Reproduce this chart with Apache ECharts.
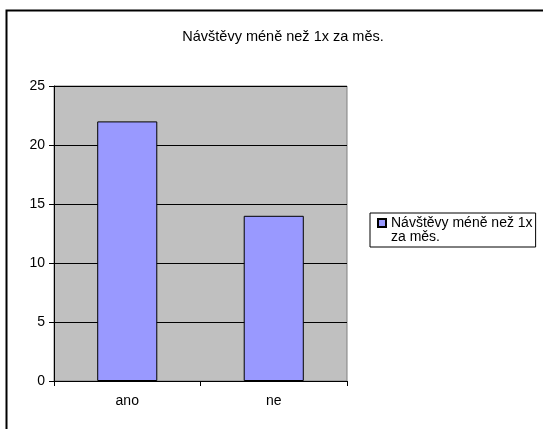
<!DOCTYPE html>
<html>
<head>
<meta charset="utf-8">
<script src="https://cdn.jsdelivr.net/npm/echarts@6/dist/echarts.min.js"></script>
<style>
  html, body { margin: 0; padding: 0; background: #fff; }
  #chart { width: 543px; height: 429px; }
</style>
</head>
<body>
<div id="chart"></div>
<script>
// Answer categories and counts
const categories = ['ano', 'ne'];
const visits = [22, 14];
const seriesName = 'Návštěvy méně než 1x za měs.';
const titleText = 'Návštěvy méně než 1x za měs.';

const font = '"Liberation Sans", Arial, sans-serif';

const chart = echarts.init(document.getElementById('chart'), null, { renderer: 'canvas' });
chart.setOption({
  backgroundColor: '#ffffff',
  animation: false,
  textStyle: { fontFamily: font },
  title: {
    text: titleText,
    left: 278,
    textAlign: 'center',
    top: 24,
    textStyle: { fontFamily: font, fontSize: 14.5, fontWeight: 'normal', color: '#000' }
  },
  graphic: [{
    type: 'rect',
    shape: { x: 6.5, y: 10.5, width: 700, height: 600 },
    style: { fill: 'none', stroke: '#000', lineWidth: 2 },
    silent: true,
    z: 100
  }],
  legend: {
    left: 370,
    top: 213,
    orient: 'vertical',
    // square marker sitting beside the first text line
    icon: 'path://M0,3H8V11H0Z M0,0 M0,28',
    itemWidth: 8,
    itemHeight: 28,
    itemGap: 0,
    padding: [2, 3, 2, 7],
    borderColor: '#000',
    borderWidth: 1,
    formatter: () => 'Návštěvy méně než 1x\nza měs.',
    textStyle: { fontFamily: font, fontSize: 14, color: '#000', lineHeight: 14 }
  },
  grid: {
    left: 54,
    right: 196,
    top: 86,
    bottom: 48,
    show: true,
    backgroundColor: '#c0c0c0',
    borderColor: '#808080',
    borderWidth: 1
  },
  xAxis: {
    type: 'category',
    data: categories,
    axisLine: { lineStyle: { color: '#000', width: 1 } },
    axisTick: { show: true, length: 5, lineStyle: { color: '#000' } },
    axisLabel: { color: '#000', fontSize: 14, margin: 13, fontFamily: font }
  },
  yAxis: {
    type: 'value',
    min: 0,
    max: 25,
    interval: 5,
    axisLine: { show: true, lineStyle: { color: '#000', width: 1 } },
    axisTick: { show: true, length: 5, lineStyle: { color: '#000' } },
    axisLabel: { color: '#000', fontSize: 14, margin: 9, fontFamily: font },
    splitLine: { show: true, lineStyle: { color: '#000', width: 1 } }
  },
  series: [{
    name: seriesName,
    type: 'bar',
    data: visits,
    barWidth: '41%',
    itemStyle: { color: '#9999ff', borderColor: '#000', borderWidth: 1 }
  }]
});
</script>
</body>
</html>
